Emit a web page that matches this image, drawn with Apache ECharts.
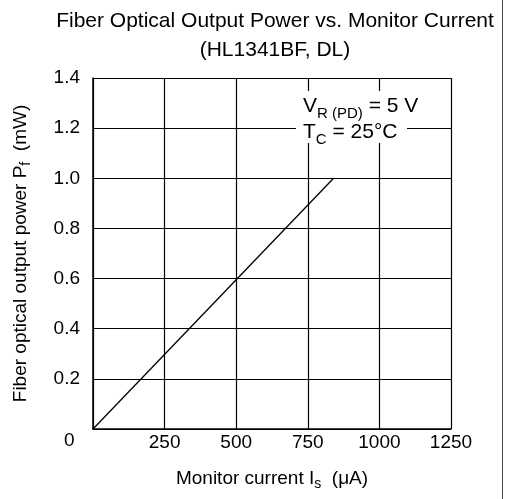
<!DOCTYPE html>
<html>
<head>
<meta charset="utf-8">
<script src="https://cdn.jsdelivr.net/npm/echarts@6/dist/echarts.min.js"></script>
<style>html,body{margin:0;padding:0;background:#fff}#c{width:507px;height:499px}</style>
</head>
<body>
<div id="c"></div>
<script>
var titleLines = ['Fiber Optical Output Power vs. Monitor Current', '(HL1341BF, DL)'];
var xTicks = [0, 250, 500, 750, 1000, 1250];
var yTicks = [0, 0.2, 0.4, 0.6, 0.8, 1.0, 1.2, 1.4];
var monitorCurrent = [0, 840];
var outputPower = [0, 1.0];

var FONT = '"Liberation Sans", Arial, Helvetica, sans-serif';
var chart = echarts.init(document.getElementById('c'));
var lineData = monitorCurrent.map(function (x, i) { return [x, outputPower[i]]; });

function richStyles(main, sub, key, lh, pad) {
  var a = { fontFamily: FONT, fontSize: main, lineHeight: lh, verticalAlign: 'top' };
  var s = { fontFamily: FONT, fontSize: sub, lineHeight: 14, verticalAlign: 'top', padding: [pad, 0, 0, 0] };
  a[key] = '#000'; s[key] = '#000';
  return { a: a, s: s };
}

chart.setOption({
  backgroundColor: '#fff',
  animation: false,
  title: {
    text: titleLines.join('\n'),
    left: 270, top: 2, textAlign: 'center',
    textStyle: { fontFamily: FONT, fontSize: 21, fontWeight: 'normal', color: '#000', lineHeight: 29 }
  },
  grid: { left: 93, top: 78, right: 56, bottom: 70, show: false },
  xAxis: {
    type: 'value', min: xTicks[0], max: xTicks[xTicks.length - 1], interval: 250,
    axisLine: { show: true, lineStyle: { color: '#000', width: 1.5 } },
    axisTick: { show: false },
    splitLine: { show: true, lineStyle: { color: '#000', width: 1.2 } },
    axisLabel: { margin: 4, fontFamily: FONT, fontSize: 19, color: '#000',
      formatter: function (v) { return v === 0 ? '' : String(v); } },
    name: '{a|Monitor current I}{s|s}{a|  (μA)}',
    nameLocation: 'middle', nameGap: 40,
    nameTextStyle: { fontFamily: FONT, color: '#000', rich: richStyles(19, 14, 'color', 22, 8) }
  },
  yAxis: {
    type: 'value', min: yTicks[0], max: yTicks[yTicks.length - 1], interval: 0.2,
    axisLine: { show: true, lineStyle: { color: '#000', width: 1.5 } },
    axisTick: { show: false },
    splitLine: { show: true, lineStyle: { color: '#000', width: 1.2 } },
    axisLabel: { margin: 13, fontFamily: FONT, fontSize: 19, color: '#000',
      formatter: function (v) { return v === 0 ? '' : v.toFixed(1); } },
    name: '{a|Fiber optical output power P}{s|f}{a|  (mW)}',
    nameLocation: 'middle', nameGap: 60,
    nameTextStyle: { fontFamily: FONT, color: '#000', rich: richStyles(19, 14, 'color', 22, 8) }
  },
  series: [{
    type: 'line', data: lineData, symbol: 'none',
    lineStyle: { color: '#000', width: 1.3 }
  }],
  graphic: [
    { type: 'text', left: 64, top: 431, style: { text: '0', fontFamily: FONT, fontSize: 19, fill: '#000' } },
    { type: 'rect', shape: { x: 296, y: 91, width: 111, height: 52 }, style: { fill: '#fff' }, z: 50 },
    { type: 'text', x: 303, y: 96, z: 60, style: {
        text: '{a|V}{s|R (PD)}{a| = 5 V}\n{a|T}{s|C}{a| = 25°C}',
        fontFamily: FONT,
        rich: richStyles(21, 15, 'fill', 26, 10) } },
    { type: 'line', shape: { x1: 502.5, y1: 0, x2: 502.5, y2: 499 }, style: { stroke: '#444', lineWidth: 1 } }
  ]
});
</script>
</body>
</html>
